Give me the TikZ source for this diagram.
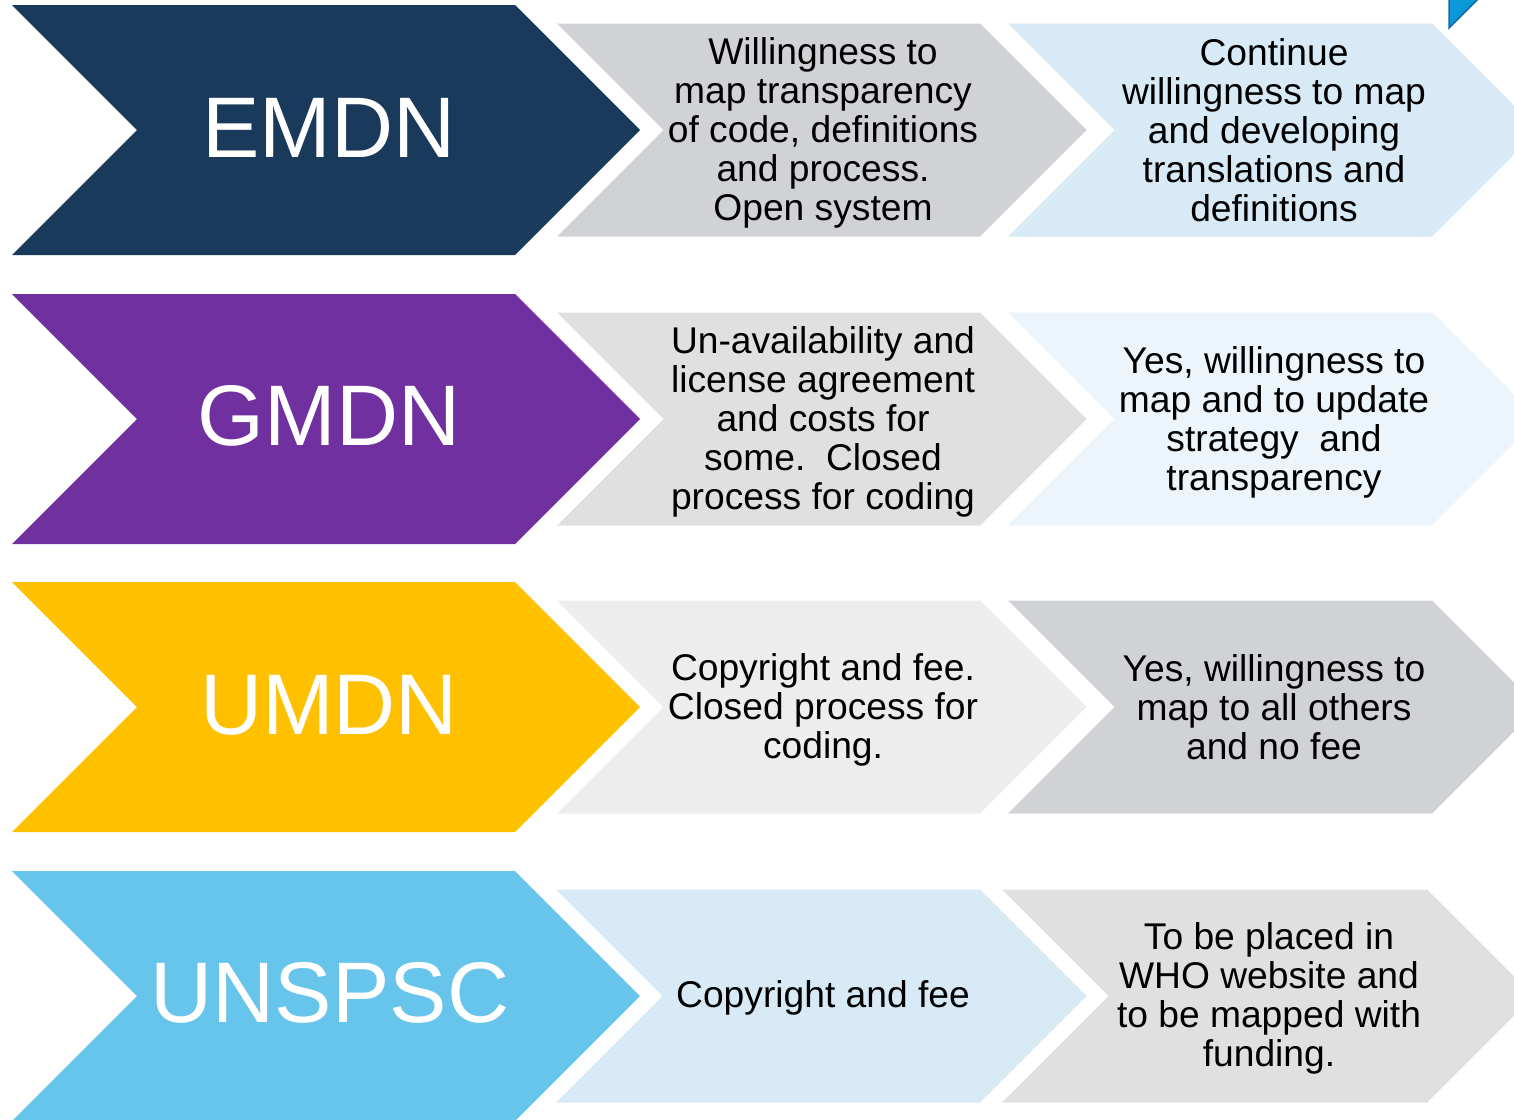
\documentclass[tikz,border=0pt]{standalone}
\usepackage{fontspec}
\setmainfont{Liberation Sans}
\definecolor{navy}{HTML}{1A3A5C}
\definecolor{purp}{HTML}{7030A0}
\definecolor{gold}{HTML}{FFC000}
\definecolor{sky}{HTML}{67C4EA}
\definecolor{grayA}{HTML}{D0D2D6}
\definecolor{blueA}{HTML}{D7EAF5}
\definecolor{grayB}{HTML}{E0E0E0}
\definecolor{blueB}{HTML}{EBF5FB}
\definecolor{grayC}{HTML}{EDEDED}
\definecolor{triFill}{HTML}{0A98D8}
\definecolor{triLine}{HTML}{136AA6}
\newcommand\chevshape[5]{%
  \fill[#5] ({#1},{#3-#4}) -- ({#2},{#3-#4}) -- ({#2+#4},{#3}) -- ({#2},{#3+#4})
    -- ({#1},{#3+#4}) -- ({#1+#4},{#3}) -- cycle;}
\begin{document}
\begin{tikzpicture}[x=1pt,y=-1pt,
  bigtxt/.style={text=white,font=\fontsize{86}{90}\selectfont,inner sep=0pt},
  smalltxt/.style={text=black,font=\fontsize{37.2}{39}\selectfont,align=center,inner sep=0pt}]
\useasboundingbox (0,0) rectangle (1514,1119);
\clip (0,0) rectangle (1514,1119);
% row 1
\chevshape{12}{515}{130}{125}{navy}
\chevshape{557}{980}{130}{106.5}{grayA}
\chevshape{1008}{1432}{130}{106.5}{blueA}
% row 2
\chevshape{12}{515}{419}{125}{purp}
\chevshape{557}{980}{419}{106.5}{grayB}
\chevshape{1008}{1432}{419}{106.5}{blueB}
% row 3
\chevshape{12}{515}{707}{125}{gold}
\chevshape{557}{980}{707}{106.5}{grayC}
\chevshape{1008}{1432}{707}{106.5}{grayA}
% row 4
\chevshape{12}{515}{996}{125}{sky}
\chevshape{556}{980}{996}{106.5}{blueA}
\chevshape{1002}{1427}{996}{106.5}{grayB}
% corner triangle
\filldraw[fill=triFill,draw=triLine,line width=1.5pt] (1449,-2) -- (1479,-2) -- (1449,28) -- cycle;
% texts
\node[bigtxt] (emdn) at (329,128) {EMDN};
\node[bigtxt] (gmdn) at (329,416) {GMDN};
\node[bigtxt] (umdn) at (329,705) {UMDN};
\node[bigtxt] (unspsc) at (330,993) {UNSPSC};
\node[smalltxt] (t12) at (823,133) {Willingness to\\map transparency\\of code, definitions\\and process.\\Open system};
\node[smalltxt] (t13) at (1274,130) {Continue\\willingness to map\\and developing\\translations and\\definitions};
\node[smalltxt] (t22) at (823,422) {Un-availability and\\license agreement\\and costs for\\some.\ \ Closed\\process for coding};
\node[smalltxt] (t23) at (1274,422) {Yes, willingness to\\map and to update\\strategy\ \ and\\transparency};
\node[smalltxt] (t32) at (823,710) {Copyright and fee.\\Closed process for\\coding.};
\node[smalltxt] (t33) at (1274,707) {Yes, willingness to\\map to all others\\and no fee};
\node[smalltxt] (t42) at (823,998) {Copyright and fee};
\node[smalltxt] (t43) at (1269,998) {To be placed in\\WHO website and\\to be mapped with\\funding.};
\end{tikzpicture}
\end{document}
